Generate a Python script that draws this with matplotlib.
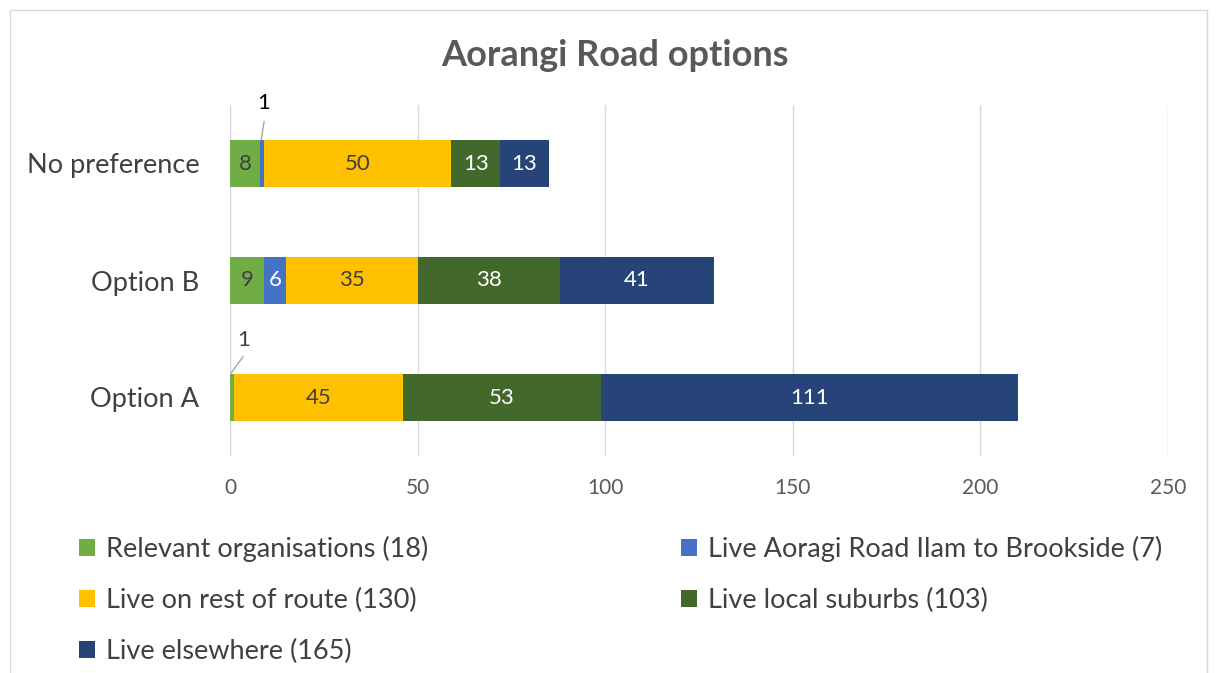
import matplotlib
matplotlib.use("Agg")
import matplotlib.pyplot as plt
from matplotlib.patches import Rectangle, Patch
import numpy as np

plt.rcParams['font.family'] = ['Lato', 'DejaVu Sans']

categories = ["Option A", "Option B", "No preference"]
series_names = ["Relevant organisations (18)", "Live Aoragi Road Ilam to Brookside (7)",
                "Live on rest of route (130)", "Live local suburbs (103)", "Live elsewhere (165)"]
relevant = [1, 9, 8]
aorangi = [0, 6, 1]
rest_route = [45, 35, 50]
local_sub = [53, 38, 13]
elsewhere = [111, 41, 13]
series = [relevant, aorangi, rest_route, local_sub, elsewhere]
colors = ["#70AD47", "#4472C4", "#FFC000", "#43682B", "#264478"]
text_colors = ["#404040", "#FFFFFF", "#404040", "#FFFFFF", "#FFFFFF"]

fig = plt.figure(figsize=(12.17, 6.73), dpi=100)
W, H = 1217, 673
ax = fig.add_axes([230 / W, 1 - 456 / H, (1168 - 230) / W, 351 / H])

y = np.arange(len(categories))
left = np.zeros(len(categories))
for vals, c, tc, name in zip(series, colors, text_colors, series_names):
    vals = np.array(vals, dtype=float)
    ax.barh(y, vals, left=left, height=0.4, color=c, label=name, zorder=3)
    for i, v in enumerate(vals):
        if v >= 5:
            ax.text(left[i] + v / 2, y[i], f"{int(v)}", ha="center", va="center",
                    color=tc, fontsize=16, zorder=4)
    left += vals

# small segment callouts (label + leader line)
ax.text(9.0, 2.52, "1", ha="center", va="center", fontsize=16, color="#000000")
ax.annotate("", xy=(8.3, 2.2), xytext=(9.1, 2.36), annotation_clip=False,
            arrowprops=dict(arrowstyle="-", color="#A6A6A6", lw=1, shrinkA=0, shrinkB=0))
ax.text(3.7, 0.49, "1", ha="center", va="center", fontsize=16, color="#404040")
ax.annotate("", xy=(0.3, 0.21), xytext=(3.5, 0.35), annotation_clip=False,
            arrowprops=dict(arrowstyle="-", color="#A6A6A6", lw=1, shrinkA=0, shrinkB=0))

ax.set_xlim(0, 250)
ax.set_ylim(-0.5, 2.5)
ax.set_xticks([0, 50, 100, 150, 200, 250])
ax.set_yticks(y)
ax.set_yticklabels(categories, fontsize=19.5, color="#404040")
ax.tick_params(axis="x", labelsize=15, colors="#595959", length=0, pad=16)
ax.tick_params(axis="y", length=0, pad=22)
ax.grid(axis="x", color="#D9D9D9", lw=1, zorder=0)
for s in ["top", "right", "bottom", "left"]:
    ax.spines[s].set_visible(False)
ax.axvline(0, color="#D9D9D9", lw=1.5, zorder=2)

fig.text(615 / W, 1 - 55 / H, "Aorangi Road options", ha="center", va="center",
         fontsize=26, fontweight="bold", color="#595959")

def mk(i):
    return Patch(facecolor=colors[i], edgecolor="none")
common = dict(loc="upper left", frameon=False, fontsize=19.5, labelcolor="#404040",
              handlelength=0.6, handleheight=0.6, handletextpad=0.4, labelspacing=0.95,
              borderaxespad=0, borderpad=0)
leg1 = fig.legend([mk(0), mk(2), mk(4)], [series_names[0], series_names[2], series_names[4]],
                  bbox_to_anchor=(79 / W, 1 - 536 / H), **common)
leg2 = fig.legend([mk(1), mk(3)], [series_names[1], series_names[3]],
                  bbox_to_anchor=(681 / W, 1 - 536 / H), **common)

fig.patches.append(Rectangle((10 / W, -0.05), (1207 - 10) / W, 1 - 10 / H + 0.05,
                             transform=fig.transFigure, fill=False, edgecolor="#D9D9D9", lw=1))

fig.savefig("out.png", dpi=100)
